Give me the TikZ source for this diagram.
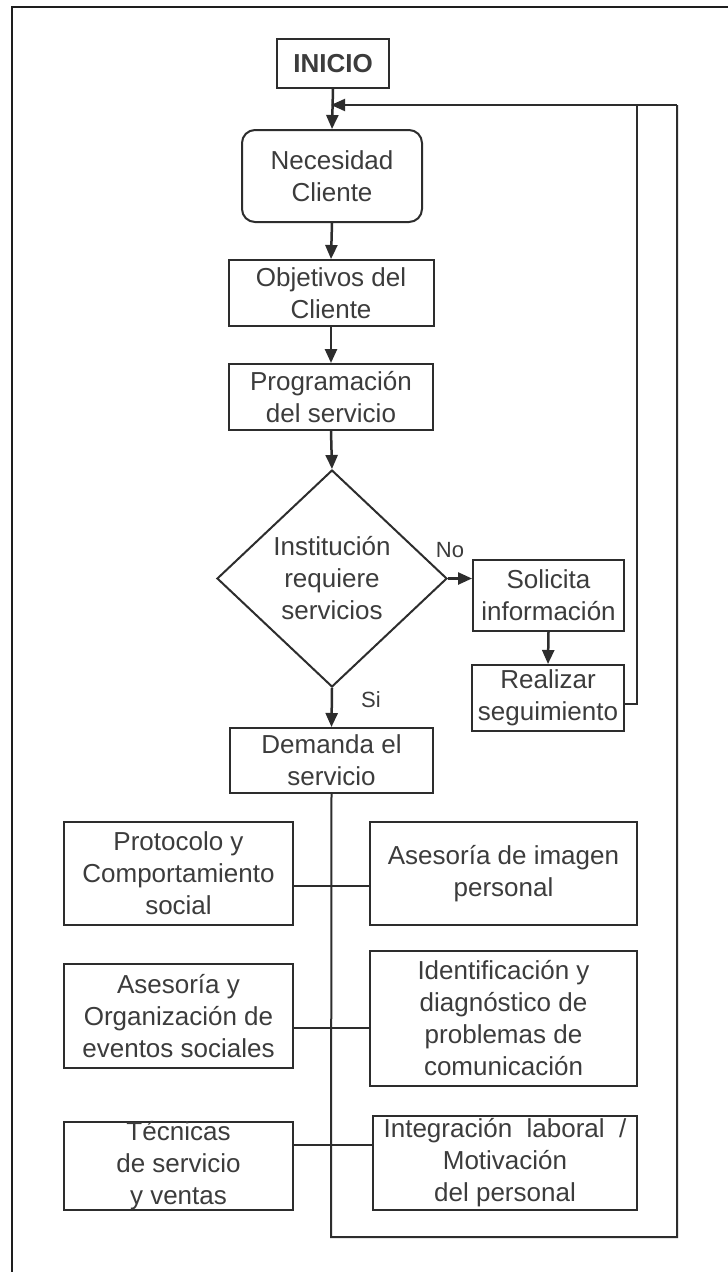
\documentclass[tikz,border=0pt]{standalone}
\usepackage{fontspec}
\setmainfont{Liberation Sans}
\usetikzlibrary{shapes.geometric,arrows.meta}
\definecolor{ink}{RGB}{60,60,60}
\definecolor{edge}{RGB}{45,45,45}
\definecolor{framec}{RGB}{30,30,30}
\begin{document}
\begin{tikzpicture}[x=1pt,y=-1pt,
  box/.style={draw=edge, line width=2pt, inner sep=0pt, align=center, text=ink,
              font=\fontsize{26}{32}\selectfont},
  txt/.style={inner sep=0pt, align=center, text=ink, font=\fontsize{26}{32}\selectfont},
  arr/.style={draw=edge, line width=2.5pt, -{Triangle[width=12pt,length=14pt]}},
  conn/.style={draw=edge, line width=2pt},
  lbl/.style={text=ink, font=\fontsize{22}{26}\selectfont, inner sep=0pt}]
\useasboundingbox (0,0) rectangle (728,1272);
\fill[white] (0,0) rectangle (728,1272);
% frame
\draw[framec, line width=2.5pt] (12,1275) -- (12,7) -- (731,7);

% main column
\node[box, minimum width=112pt, minimum height=49pt,
      font=\fontsize{26}{32}\bfseries\selectfont] (ini) at (333,63.5) {INICIO};
\node[box, rounded corners=13pt, minimum width=180pt, minimum height=92pt] (nec) at (332,176) {Necesidad\\Cliente};
\node[box, minimum width=205pt, minimum height=66pt] (obj) at (331,293) {Objetivos del\\Cliente};
\node[box, minimum width=204pt, minimum height=66pt] (prog) at (331,397) {Programación\\del servicio};
\node[diamond, draw=edge, line width=2pt, minimum width=230pt, minimum height=217pt,
      inner sep=0pt, aspect=1.06] (dia) at (332,578.5) {};
\node[txt] (diat) at (dia.center) {Institución\\requiere\\servicios};
\node[box, minimum width=151pt, minimum height=71pt] (sol) at (548.5,595.5) {Solicita\\información};
\node[box, minimum width=152pt, minimum height=66pt] (real) at (548,698) {Realizar\\seguimiento};
\node[box, minimum width=203pt, minimum height=65pt] (dem) at (331.5,760.5) {Demanda el\\servicio};

% service boxes
\node[box, minimum width=229pt, minimum height=103pt] (prot) at (178.5,873.5) {Protocolo y\\Comportamiento\\social};
\node[box, minimum width=229pt, minimum height=104pt] (ases) at (178.5,1016) {Asesoría y\\Organización de\\eventos sociales};
\node[box, minimum width=229pt, minimum height=88pt] (tec) at (178.5,1166) {Técnicas\\de servicio\\y ventas};
\node[box, minimum width=267pt, minimum height=103pt] (img) at (503.5,873.5) {Asesoría de imagen\\personal};
\node[box, minimum width=267pt, minimum height=135pt] (iden) at (503.5,1018.5) {Identificación y\\diagnóstico de\\problemas de\\comunicación};
\node[box, minimum width=264pt, minimum height=94pt] (integ) at (505,1163) {Integración\ \ laboral\ \ /\\Motivación\\del personal};

% labels
\node[lbl] (no) at (450,550) {No};
\node[lbl] (si) at (371,700) {Si};

% coordinates
\coordinate (mj) at (331,105);
\coordinate (li) at (637,105);
\coordinate (lo) at (677,105);
\coordinate (cb) at (331,1237);
\coordinate (h1) at (331,886);
\coordinate (h2) at (331,1028);
\coordinate (h3) at (331,1145);

% arrows
\draw[arr] (ini.south) -- (nec.north);
\draw[arr] (nec.south) -- (obj.north);
\draw[arr] (obj.south) -- (prog.north);
\draw[arr] (prog.south) -- (dia.north);
\draw[arr] (dia.east) -- (sol.west |- dia.east);
\draw[arr] (sol.south) -- (real.north);
\draw[arr] (dia.south) -- (dem.north);

% loop
\draw[conn] ([yshift=-6pt]real.east) -| (li);
\draw[conn] (dem.south) -- (cb) -| (lo);
\draw[conn, -{Triangle[width=12pt,length=14pt]}] (lo) -- (mj);

% branches
\draw[conn] (prot.east |- h1) -- (img.west |- h1);
\draw[conn] (ases.east |- h2) -- (iden.west |- h2);
\draw[conn] (tec.east |- h3) -- (integ.west |- h3);
\end{tikzpicture}
\end{document}
